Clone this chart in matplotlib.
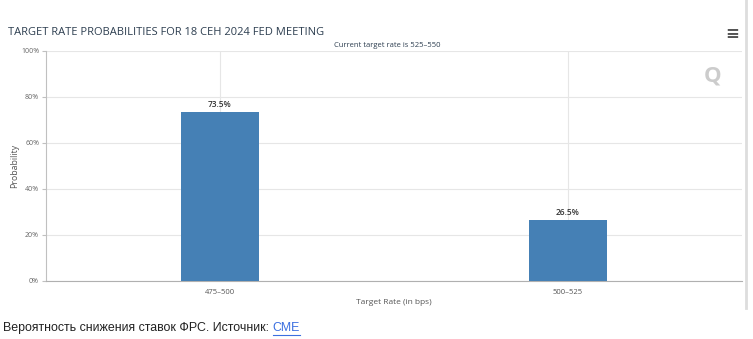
import matplotlib.pyplot as plt
import numpy as np

# данные графика
rates = ['475-500', '500-525']
probs = [73.5, 26.5]
yticks = [0, 20, 40, 60, 80, 100]

title = 'TARGET RATE PROBABILITIES FOR 18 CEH 2024 FED MEETING'
subtitle = 'Current target rate is 525\u2013550'
caption = 'Вероятность снижения ставок ФРС. Источник: '

plt.rcParams['font.family'] = ['Open Sans', 'DejaVu Sans']

fig = plt.figure(figsize=(7.53, 3.39), dpi=100)
fig.patch.set_facecolor('white')
ax = fig.add_axes([0.0611, 0.1711, 0.9243, 0.6785])

x = np.arange(len(rates))
ax.bar(x, probs, width=0.225, color='#4580b5', zorder=3)
for xi, p in zip(x, probs):
    ax.text(xi, p + 1.3, '%.1f%%' % p, ha='center', va='bottom',
            fontsize=6, color='#333333', fontweight='semibold')

ax.set_xlim(-0.5, 1.5)
ax.set_ylim(0, 100)
ax.set_xticks(x)
ax.set_xticklabels([r.replace('-', '\u2013') for r in rates], fontsize=5.5, color='#555555')
ax.set_yticks(yticks)
ax.set_yticklabels(['%d%%' % t for t in yticks], fontsize=5, color='#666666')
ax.tick_params(axis='x', length=0, pad=6)
ax.tick_params(axis='y', length=3, color='#c0c0c0', pad=2)
ax.grid(True, color='#e6e6e6', linewidth=0.8, zorder=0)
for s in ['top', 'right']:
    ax.spines[s].set_visible(False)
ax.spines['left'].set_color('#c0c0c0')
ax.spines['bottom'].set_color('#b0b0b0')
ax.set_xlabel('Target Rate (in bps)', fontsize=6, color='#555555', labelpad=2)
ax.set_ylabel('Probability', fontsize=6.3, color='#555555', labelpad=1)

fig.text(0.011, 0.905, title, fontsize=8, color='#2d3e50', va='center')
fig.text(0.514, 0.866, subtitle, fontsize=5.5, color='#2d3e50', ha='center', va='center')
fig.text(0.946, 0.775, 'Q', fontsize=16, fontweight='bold', color='#cccccc', ha='center', va='center')
fig.text(0.973, 0.9, '\u2261', fontsize=12, fontweight='bold', color='#555555', ha='center', va='center')

# правая серая рамка
fig.add_artist(plt.Line2D([0.991, 0.991], [0.09, 1.0], color='#dddddd', linewidth=2))

t = fig.text(0.004, 0.032, caption, fontsize=8.9, color='#222222', va='center',
             family=['Liberation Sans', 'DejaVu Sans'])
fig.canvas.draw()
bb = t.get_window_extent().transformed(fig.transFigure.inverted())
c = fig.text(bb.x1, 0.032, 'CME', fontsize=8.9, color='#3b6fe0', va='center',
             family=['Liberation Sans', 'DejaVu Sans'])
fig.canvas.draw()
cb = c.get_window_extent().transformed(fig.transFigure.inverted())
fig.add_artist(plt.Line2D([cb.x0, cb.x1], [0.012, 0.012], color='#3b6fe0', linewidth=0.8))

fig.savefig('out.png', dpi=100)
